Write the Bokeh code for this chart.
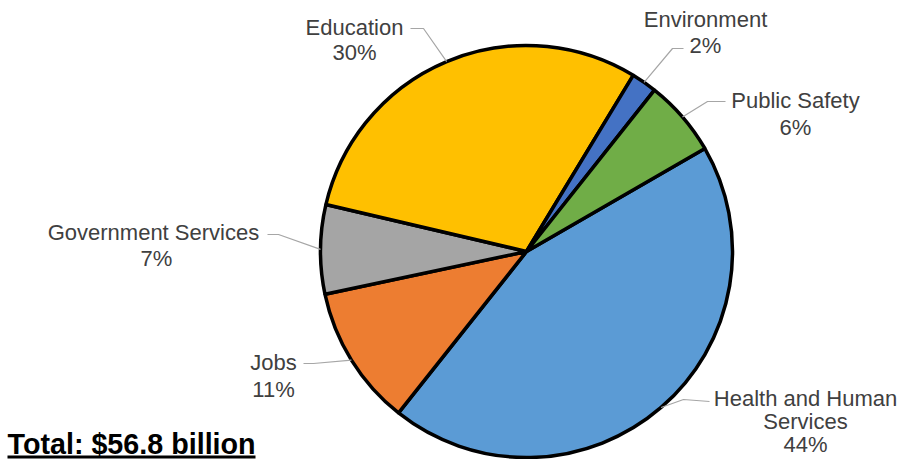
import math
from bokeh.plotting import figure
from bokeh.models import Range1d, ColumnDataSource
from bokeh.core.properties import value
from bokeh.embed import file_html
from bokeh.resources import INLINE

# ---- data ----
categories = ["Health and Human Services", "Jobs", "Government Services",
              "Education", "Environment", "Public Safety"]
shares = [44, 11, 7, 30, 2, 6]
colors = ["#5B9BD5", "#ED7D31", "#A5A5A5", "#FFC000", "#4472C4", "#70AD47"]
label_lines = [["Health and Human", "Services"], ["Jobs"], ["Government  Services"],
               ["Education"], ["Environment"], ["Public Safety"]]
total_text = "Total: $56.8 billion"

# ---- layout (pixel coordinates; y measured downward from top) ----
W, H = 898, 459
CX, CY, R = 526, 251, 206
START = 60.0  # first slice starts here, degrees clockwise from 12 o'clock
TXT_SHIFT = 8   # svg text sits lower than the anchor by about this much
# text centre x, first baseline y, line pitch
text_pos = [(805, 406, 23), (273, 370, 27), (156, 240, 25.5),
            (354, 35, 25), (705, 27, 26), (795, 108, 27)]
# leader: point near text, elbow point
leaders = [((709, 401), (683, 399)), ((303, 363), (313, 363)), ((267, 234), (278, 234)),
           ((410, 28), (423, 28)), ((683, 48), (672, 48)), ((725, 101), (707, 101))]

def Y(img_y):
    return H - img_y

p = figure(width=W, height=H, output_backend="svg", toolbar_location=None,
           x_range=Range1d(0, W), y_range=Range1d(0, H),
           x_axis_location=None, y_axis_location=None, min_border=0)
p.grid.visible = False
p.outline_line_color = None
p.background_fill_color = "white"
p.border_fill_color = "white"

total = sum(shares)
starts, ends, mids = [], [], []
cum = START
for s in shares:
    a0 = cum
    a1 = cum + 360.0 * s / total
    cum = a1
    mids.append((a0 + a1) / 2)
    # bokeh angles: anticlockwise from east
    starts.append(math.radians(90 - a1))
    ends.append(math.radians(90 - a0))

src = ColumnDataSource(dict(start=starts, end=ends, color=colors))
p.wedge(x=CX, y=Y(CY), radius=R, start_angle="start", end_angle="end",
        fill_color="color", line_color="black", line_width=3.5, source=src)

# leader lines
for (t, e), m in zip(leaders, mids):
    px = CX + R * math.sin(math.radians(m))
    py = CY - R * math.cos(math.radians(m))
    p.line(x=[t[0], e[0], px], y=[Y(t[1]), Y(e[1]), Y(py)],
           line_color="#A6A6A6", line_width=1.2)

# labels
tx, ty, tt = [], [], []
for lines, s, (x, y0, pitch) in zip(label_lines, shares, text_pos):
    allines = lines + [f"{s}%"]
    for i, ln in enumerate(allines):
        tx.append(x)
        ty.append(Y(y0 + i * pitch - TXT_SHIFT))
        tt.append(ln)
p.text(x=tx, y=ty, text=tt, text_font=value("Liberation Sans"),
       text_font_size="22px", text_color="#404040", text_align="center",
       text_baseline="alphabetic")

# total
p.text(x=[7], y=[Y(453 - 10)], text=[total_text], text_font=value("Liberation Sans"),
       text_font_size="28.7px", text_font_style="bold", text_color="black",
       text_align="left", text_baseline="alphabetic")
p.line(x=[7, 255], y=[Y(456.5), Y(456.5)], line_color="black", line_width=3)

open("out.html", "w").write(file_html(p, INLINE))
